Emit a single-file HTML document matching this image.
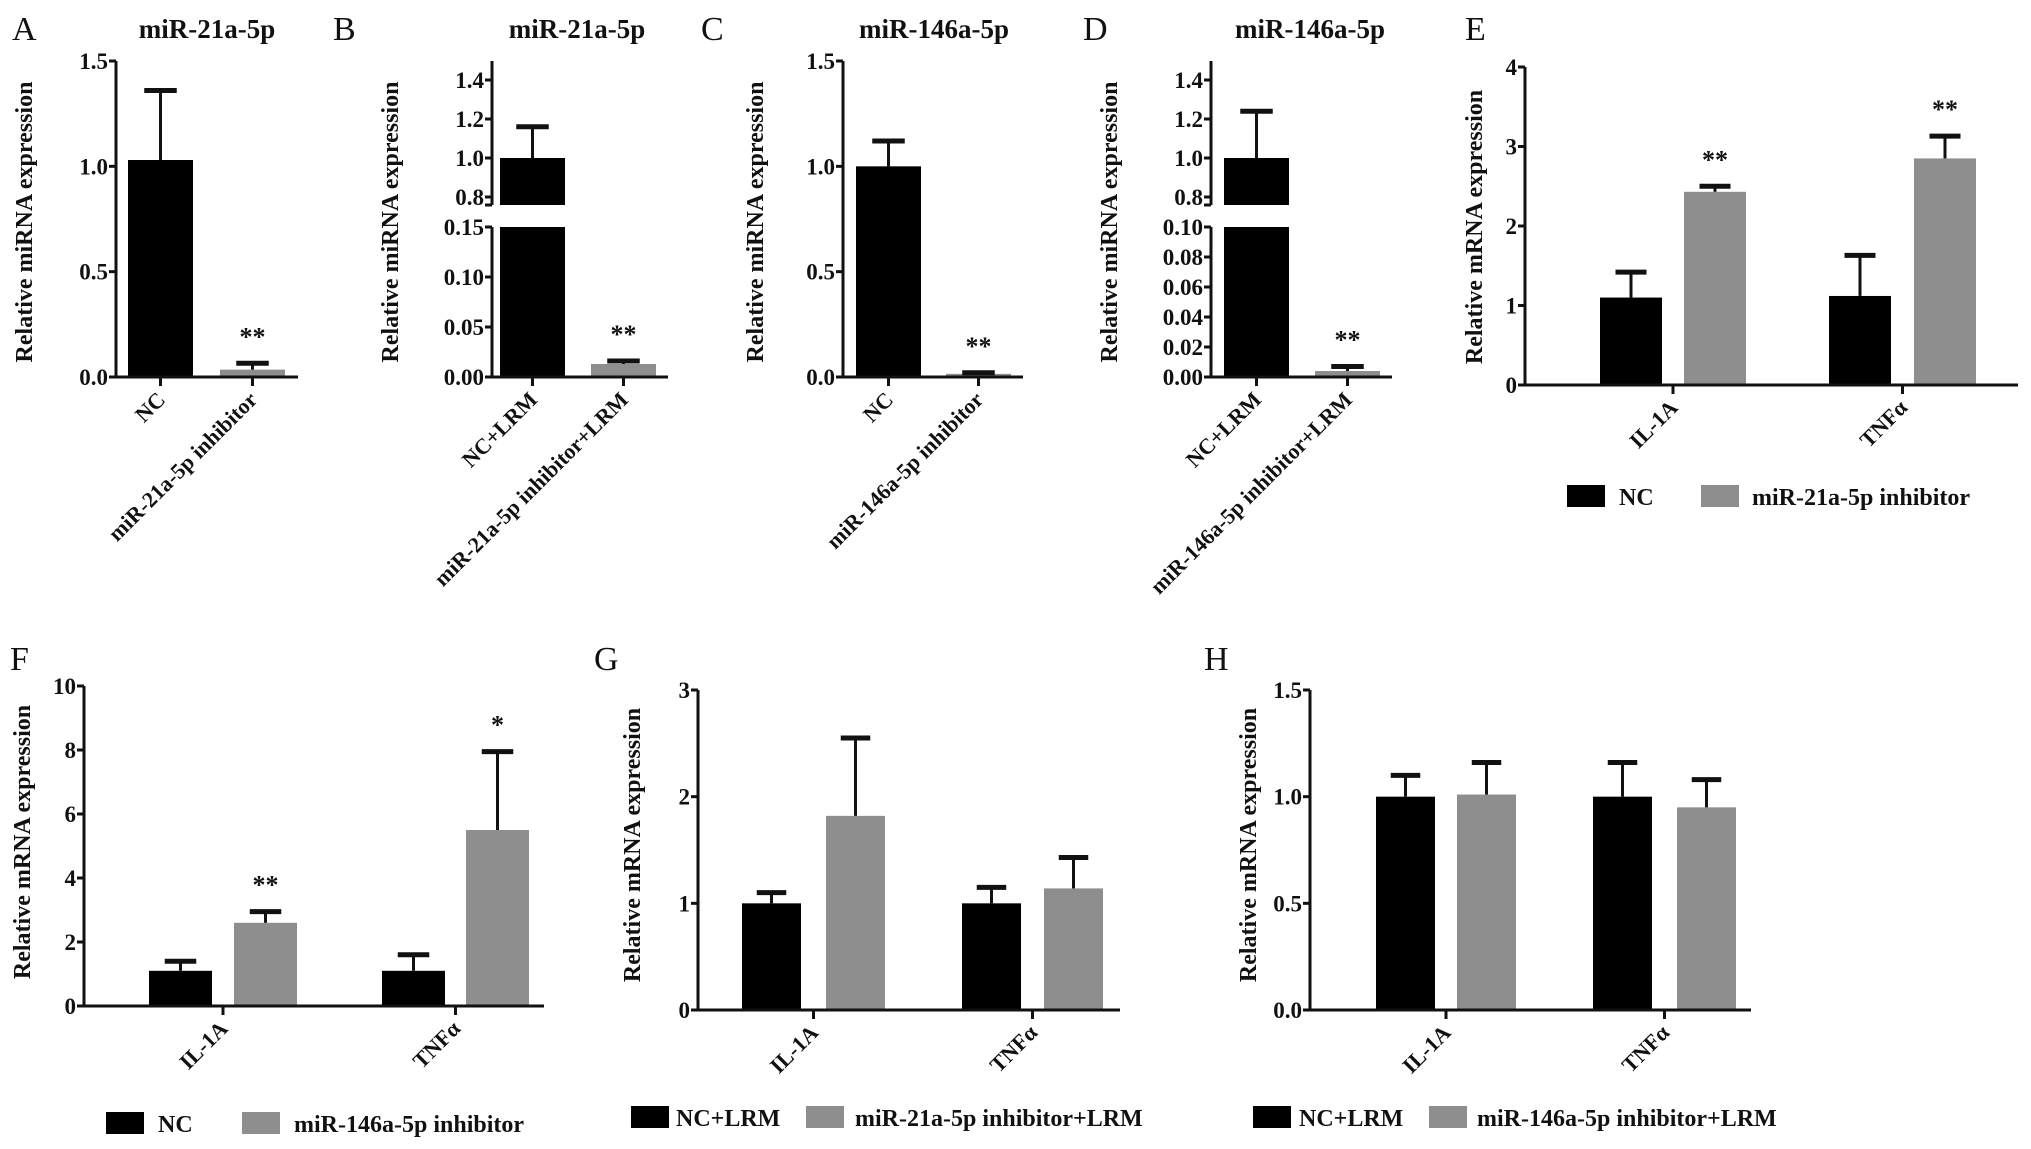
<!DOCTYPE html>
<html><head><meta charset="utf-8">
<style>
html,body{margin:0;padding:0;background:#fff;}
svg{display:block;}
text{font-family:"Liberation Serif",serif;font-weight:bold;fill:#111;}
text.letter{font-weight:normal;}
</style></head>
<body>
<svg id="fig" width="2031" height="1149" viewBox="0 0 2031 1149" xmlns="http://www.w3.org/2000/svg"></svg>
<script>
// ---- data ----
const aCats = ["NC", "miR-21a-5p inhibitor"];
const aValues = [1.03, 0.035];
const aErrors = [1.36, 0.065];
const aStars = ["", "**"];
const aTicks = [0, 0.5, 1.0, 1.5];
const aTickLabels = ["0.0", "0.5", "1.0", "1.5"];

const bCats = ["NC+LRM", "miR-21a-5p inhibitor+LRM"];
const bValues = [1.0, 0.013];
const bErrors = [1.16, 0.016];
const bStars = ["", "**"];
const bUpperTicks = [0.8, 1.0, 1.2, 1.4];
const bUpperLabels = ["0.8", "1.0", "1.2", "1.4"];
const bLowerTicks = [0, 0.05, 0.10, 0.15];
const bLowerLabels = ["0.00", "0.05", "0.10", "0.15"];

const cCats = ["NC", "miR-146a-5p inhibitor"];
const cValues = [1.0, 0.015];
const cErrors = [1.12, 0.02];
const cStars = ["", "**"];
const cTicks = [0, 0.5, 1.0, 1.5];
const cTickLabels = ["0.0", "0.5", "1.0", "1.5"];

const dCats = ["NC+LRM", "miR-146a-5p inhibitor+LRM"];
const dValues = [1.0, 0.004];
const dErrors = [1.24, 0.007];
const dStars = ["", "**"];
const dUpperTicks = [0.8, 1.0, 1.2, 1.4];
const dUpperLabels = ["0.8", "1.0", "1.2", "1.4"];
const dLowerTicks = [0, 0.02, 0.04, 0.06, 0.08, 0.10];
const dLowerLabels = ["0.00", "0.02", "0.04", "0.06", "0.08", "0.10"];

const geneCats = ["IL-1A", "TNFα"];

const eNC = [1.1, 1.12];
const eNCErr = [1.42, 1.63];
const eInh = [2.43, 2.85];
const eInhErr = [2.5, 3.13];
const eStars = ["**", "**"];
const eTicks = [0, 1, 2, 3, 4];

const fNC = [1.1, 1.1];
const fNCErr = [1.4, 1.6];
const fInh = [2.6, 5.5];
const fInhErr = [2.95, 7.95];
const fStars = ["**", "*"];
const fTicks = [0, 2, 4, 6, 8, 10];

const gNC = [1.0, 1.0];
const gNCErr = [1.1, 1.15];
const gInh = [1.82, 1.14];
const gInhErr = [2.55, 1.43];
const gTicks = [0, 1, 2, 3];

const hNC = [1.0, 1.0];
const hNCErr = [1.1, 1.16];
const hInh = [1.01, 0.95];
const hInhErr = [1.16, 1.08];
const hTicks = [0, 0.5, 1.0, 1.5];
const hTickLabels = ["0.0", "0.5", "1.0", "1.5"];

// ---- drawing helpers ----
const NS = "http://www.w3.org/2000/svg";
const svg = document.getElementById("fig");
const GRAY = "#8e8e8e";
function mk(tag, attrs, parent) {
  const el = document.createElementNS(NS, tag);
  for (const k in attrs) el.setAttribute(k, attrs[k]);
  (parent || svg).appendChild(el);
  return el;
}
function line(x1, y1, x2, y2, w, p) { return mk("line", {x1, y1, x2, y2, stroke: "#111", "stroke-width": w || 3}, p); }
function txt(x, y, s, size, anchor, p, extra) {
  const t = mk("text", Object.assign({x, y, "font-size": size, "text-anchor": anchor || "start"}, extra || {}), p);
  t.textContent = s;
  return t;
}
function linScale(d0, d1, r0, r1) { return v => r0 + (v - d0) * (r1 - r0) / (d1 - d0); }

function panelFrame(g, letter, lx, ly, title, tx, ytitle, yx, ycy) {
  const L = txt(lx, ly, letter, 34, "start", g, {"class": "letter"});
  
  
  if (title) {
    const T = txt(tx, 38, title, 27, "middle", g);
    
    
  }
  const Y = txt(yx, ycy, ytitle, 24, "middle", g, {transform: `rotate(-90 ${yx} ${ycy})`});
  
  
}

function yTicks(g, ax, ys, ticks, labels) {
  ticks.forEach((v, i) => {
    const y = ys(v);
    line(ax - 7, y, ax, y, 3, g);
    const t = txt(ax - 8, y + 8, labels[i], 23, "end", g);
    
    
  });
}

function xLabel(g, x, y0, s) {
  line(x, y0, x, y0 + 9, 3, g);
  const t = txt(x + 6, y0 + 24, s, 22, "end", g, {transform: `rotate(-45 ${x + 6} ${y0 + 24})`});
  
  
}

function bar(g, x, w, yTop, yBot, color, name) {
  const r = mk("rect", {x, y: Math.min(yTop, yBot), width: w, height: Math.abs(yBot - yTop), fill: color}, g);
  
  
  return r;
}
function errBar(g, cx, y1, y2, w) {
  const e = mk("g", {}, g);
  
  
  line(cx, y1, cx, y2, 3, e);
  line(cx - w / 2, y2, cx + w / 2, y2, 5, e);
}
function star(g, cx, y, s) {
  if (!s) return;
  const t = txt(cx, y, s, 26, "middle", g, {fill: "#777"});
  
  
}

function simplePanel(name, ax, yTopPx, y0, xEnd, dMax, ticks, labels, barX, bw, cats, vals, errs, stars) {
  const g = mk("g", {});
  
  
  const ys = linScale(0, dMax, y0, yTopPx);
  cats.forEach((c, i) => {
    const x = barX[i];
    bar(g, x, bw, ys(vals[i]), y0, i === 0 ? "#000" : GRAY, "bar-" + c.replace(/[^a-z0-9]+/gi, "-").toLowerCase());
    errBar(g, x + bw / 2, ys(vals[i]), ys(errs[i]), bw * 0.5);
    star(g, x + bw / 2, ys(errs[i]) - 18, stars[i]);
    xLabel(g, x + bw / 2, y0, c);
  });
  line(ax, yTopPx, ax, y0 + 1.5, 3, g);
  line(ax - 1.5, y0, xEnd, y0, 3, g);
  yTicks(g, ax, ys, ticks, labels);
  return g;
}

function brokenPanel(name, ax, xEnd, lowerMax, upTicks, upLabels, lowTicks, lowLabels, barX, bw, cats, vals, errs, stars) {
  const g = mk("g", {});
  
  
  const yUp = linScale(0.8, 1.4, 197, 80);
  const upBottom = 205, lowTop = 227, y0 = 377;
  const yLow = linScale(0, lowerMax, y0, lowTop);
  const yv = v => v >= 0.76 ? yUp(v) : yLow(Math.min(v, lowerMax));
  cats.forEach((c, i) => {
    const x = barX[i];
    const col = i === 0 ? "#000" : GRAY;
    const bn = "bar-" + c.replace(/[^a-z0-9]+/gi, "-").toLowerCase();
    if (vals[i] > lowerMax) {
      bar(g, x, bw, yUp(vals[i]), upBottom, col, bn + "-upper");
      bar(g, x, bw, lowTop, y0, col, bn + "-lower");
    } else {
      bar(g, x, bw, yLow(vals[i]), y0, col, bn);
    }
    errBar(g, x + bw / 2, yv(vals[i]), yv(errs[i]), bw * 0.5);
    star(g, x + bw / 2, yv(errs[i]) - 18, stars[i]);
    xLabel(g, x + bw / 2, y0, c);
  });
  line(ax, 61, ax, upBottom, 3, g);
  line(ax - 7, upBottom, ax, upBottom, 3, g);
  line(ax, lowTop, ax, y0 + 1.5, 3, g);
  line(ax - 1.5, y0, xEnd, y0, 3, g);
  yTicks(g, ax, yUp, upTicks, upLabels);
  yTicks(g, ax, yLow, lowTicks, lowLabels);
  return g;
}

function groupedPanel(name, ax, yTopPx, y0, xEnd, dMax, ticks, labels, ncX, inhX, bw, nc, ncE, inh, inhE, stars, legend) {
  const g = mk("g", {});
  
  
  const ys = linScale(0, dMax, y0, yTopPx);
  geneCats.forEach((c, i) => {
    bar(g, ncX[i], bw, ys(nc[i]), y0, "#000", "bar-nc-" + i);
    errBar(g, ncX[i] + bw / 2, ys(nc[i]), ys(ncE[i]), bw * 0.5);
    bar(g, inhX[i], bw, ys(inh[i]), y0, GRAY, "bar-inhibitor-" + i);
    errBar(g, inhX[i] + bw / 2, ys(inh[i]), ys(inhE[i]), bw * 0.5);
    if (stars) star(g, inhX[i] + bw / 2, ys(inhE[i]) - 18, stars[i]);
    xLabel(g, (ncX[i] + inhX[i] + bw) / 2, y0, c);
  });
  line(ax, yTopPx, ax, y0 + 1.5, 3, g);
  line(ax - 1.5, y0, xEnd, y0, 3, g);
  yTicks(g, ax, ys, ticks, labels);
  const lg = mk("g", {}, g);
  
  
  const [x1, t1, x2, t2, ly, s1, s2] = legend;
  const e1 = mk("g", {}, lg);
  
  
  mk("rect", {x: x1, y: ly - 11, width: 38, height: 22, fill: "#000"}, e1);
  txt(t1, ly + 9, s1, 24, "start", e1);
  const e2 = mk("g", {}, lg);
  
  
  mk("rect", {x: x2, y: ly - 11, width: 38, height: 22, fill: GRAY}, e2);
  txt(t2, ly + 9, s2, 24, "start", e2);
  return g;
}

// ---- panels ----
let g;
g = simplePanel("panel-a", 116, 61, 377, 298, 1.5, aTicks, aTickLabels, [128, 220], 65, aCats, aValues, aErrors, aStars);
panelFrame(g, "A", 12, 40, "miR-21a-5p", 207, "Relative miRNA expression", 32, 222);

g = brokenPanel("panel-b", 492, 668, 0.15, bUpperTicks, bUpperLabels, bLowerTicks, bLowerLabels, [500, 591], 65, bCats, bValues, bErrors, bStars);
panelFrame(g, "B", 333, 40, "miR-21a-5p", 577, "Relative miRNA expression", 398, 222);

g = simplePanel("panel-c", 843, 61, 377, 1023, 1.5, cTicks, cTickLabels, [856, 946], 65, cCats, cValues, cErrors, cStars);
panelFrame(g, "C", 701, 40, "miR-146a-5p", 934, "Relative miRNA expression", 763, 222);

g = brokenPanel("panel-d", 1211, 1392, 0.10, dUpperTicks, dUpperLabels, dLowerTicks, dLowerLabels, [1224, 1315], 65, dCats, dValues, dErrors, dStars);
panelFrame(g, "D", 1083, 40, "miR-146a-5p", 1310, "Relative miRNA expression", 1117, 222);

g = groupedPanel("panel-e", 1525, 67, 385, 2018, 4, eTicks, eTicks.map(String), [1600, 1829], [1684, 1914], 62, eNC, eNCErr, eInh, eInhErr, eStars,
  [1567, 1619, 1701, 1752, 496, "NC", "miR-21a-5p inhibitor"]);
panelFrame(g, "E", 1465, 40, "", 0, "Relative mRNA expression", 1482, 227);

g = groupedPanel("panel-f", 84, 686, 1006, 544, 10, fTicks, fTicks.map(String), [149, 382], [234, 466], 63, fNC, fNCErr, fInh, fInhErr, fStars,
  [106, 158, 242, 294, 1123, "NC", "miR-146a-5p inhibitor"]);
panelFrame(g, "F", 10, 670, "", 0, "Relative mRNA expression", 30, 842);

g = groupedPanel("panel-g", 698, 690, 1010, 1120, 3, gTicks, gTicks.map(String), [742, 962], [826, 1044], 59, gNC, gNCErr, gInh, gInhErr, null,
  [631, 676, 806, 855, 1117, "NC+LRM", "miR-21a-5p inhibitor+LRM"]);
panelFrame(g, "G", 594, 670, "", 0, "Relative mRNA expression", 640, 845);

g = groupedPanel("panel-h", 1310, 690, 1010, 1751, 1.5, hTicks, hTickLabels, [1376, 1593], [1457, 1677], 59, hNC, hNCErr, hInh, hInhErr, null,
  [1253, 1299, 1429, 1477, 1117, "NC+LRM", "miR-146a-5p inhibitor+LRM"]);
panelFrame(g, "H", 1204, 670, "", 0, "Relative mRNA expression", 1256, 845);
</script>
</body></html>
